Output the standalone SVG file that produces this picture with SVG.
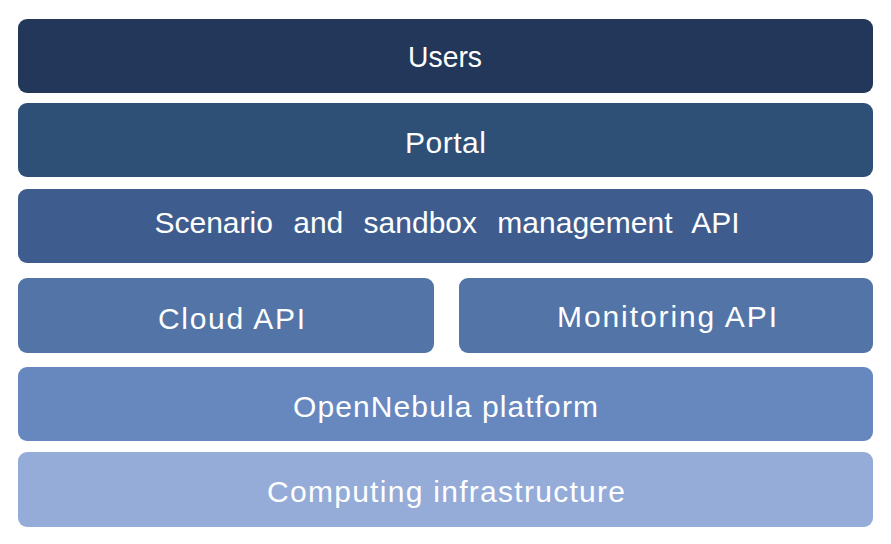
<svg xmlns="http://www.w3.org/2000/svg" width="891" height="544" viewBox="0 0 891 544">
<style>
.box{stroke:none}
.lbl{font-family:"Liberation Sans","DejaVu Sans",sans-serif;font-size:30px;fill:#ffffff;text-anchor:middle}
</style>
<rect width="891" height="544" fill="#ffffff"/>
<g id="users"><rect class="box" x="18" y="19" width="855" height="74" rx="9" fill="#22375a"/><text class="lbl" x="445" y="67" textLength="74" lengthAdjust="spacingAndGlyphs">Users</text></g>
<g id="portal"><rect class="box" x="18" y="103" width="855" height="74" rx="9" fill="#2e5077"/><text class="lbl" x="445.5" y="153" textLength="81" lengthAdjust="spacing">Portal</text></g>
<g id="scenario"><rect class="box" x="18" y="189" width="855" height="74" rx="9" fill="#3e5d8e"/><text class="lbl" x="447" y="233" word-spacing="12">Scenario and sandbox management API</text></g>
<g id="cloud"><rect class="box" x="18" y="278" width="416" height="75" rx="9" fill="#5274a7"/><text class="lbl" x="231.5" y="329" textLength="147" lengthAdjust="spacing">Cloud API</text></g>
<g id="monitoring"><rect class="box" x="459" y="278" width="414" height="75" rx="9" fill="#5274a7"/><text class="lbl" x="667" y="327" textLength="220" lengthAdjust="spacing">Monitoring API</text></g>
<g id="opennebula"><rect class="box" x="18" y="367" width="855" height="74" rx="9" fill="#6688bf"/><text class="lbl" x="445.5" y="417" textLength="305" lengthAdjust="spacing">OpenNebula platform</text></g>
<g id="computing"><rect class="box" x="18" y="452" width="855" height="75" rx="9" fill="#95acd8"/><text class="lbl" x="446" y="502" textLength="358" lengthAdjust="spacing">Computing infrastructure</text></g>
<g id="connectors"></g>
</svg>
